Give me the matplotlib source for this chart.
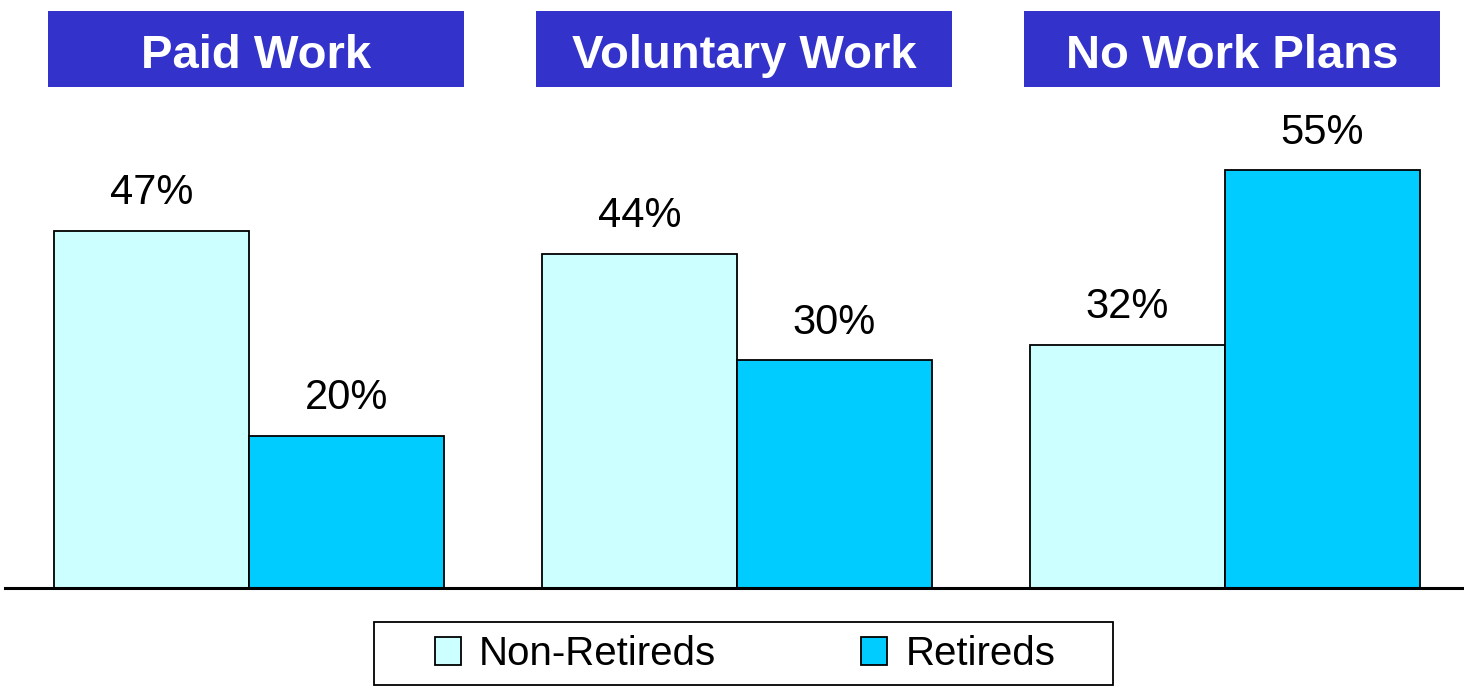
import matplotlib.pyplot as plt
import matplotlib.patches as patches
import numpy as np

plt.rcParams['font.family'] = ['Liberation Sans', 'DejaVu Sans']

categories = ['Paid Work', 'Voluntary Work', 'No Work Plans']
series_names = ['Non-Retireds', 'Retireds']
non_retireds = [47, 44, 32]
retireds = [20, 30, 55]

colors = ['#CCFFFF', '#00CCFF']
header_color = '#3333CC'

W, H = 1464, 688
fig = plt.figure(figsize=(W / 100, H / 100), dpi=100)
ax = fig.add_axes([5 / W, 100 / H, 1 - 5 / W, 588 / H])

x = np.arange(len(categories))
width = 0.4

bars1 = ax.bar(x - width / 2, non_retireds, width, color=colors[0],
               edgecolor='black', linewidth=1.3, label=series_names[0])
bars2 = ax.bar(x + width / 2, retireds, width, color=colors[1],
               edgecolor='black', linewidth=1.3, label=series_names[1])

# value labels above bars
for bars in (bars1, bars2):
    for b in bars:
        ax.text(b.get_x() + b.get_width() / 2, b.get_height() + 3.5,
                f'{b.get_height():.0f}%', ha='center', va='baseline',
                fontsize=30)

ax.set_xlim(-0.5, 2.49)
ax.set_ylim(0, 77.4)

# category headers as blue boxes
for i, cat in enumerate(categories):
    cx = i + 0.015
    rect = patches.Rectangle((cx - 0.426, 65.9), 0.852, 10.1,
                             facecolor=header_color, edgecolor='none',
                             clip_on=False)
    ax.add_patch(rect)
    ax.text(cx, 68.5, cat, ha='center', va='baseline', color='white',
            fontsize=34, fontweight='bold')

for s in ['top', 'right', 'left']:
    ax.spines[s].set_visible(False)
ax.spines['bottom'].set_linewidth(2.2)
ax.set_xticks([])
ax.set_yticks([])

# legend with a separately drawn frame
frame = patches.Rectangle((374 / W, 1 - 685 / H), (1113 - 374) / W, 63 / H,
                          transform=fig.transFigure, facecolor='white',
                          edgecolor='black', linewidth=1.3)
fig.patches.append(frame)
leg = fig.legend(loc='center', bbox_to_anchor=(745 / W, 1 - 654 / H),
                 ncol=2, fontsize=29, frameon=False,
                 handlelength=0.65, handleheight=0.72,
                 handletextpad=0.45, columnspacing=3.6, borderpad=0,
                 borderaxespad=0)

plt.savefig('out.png', dpi=100)
